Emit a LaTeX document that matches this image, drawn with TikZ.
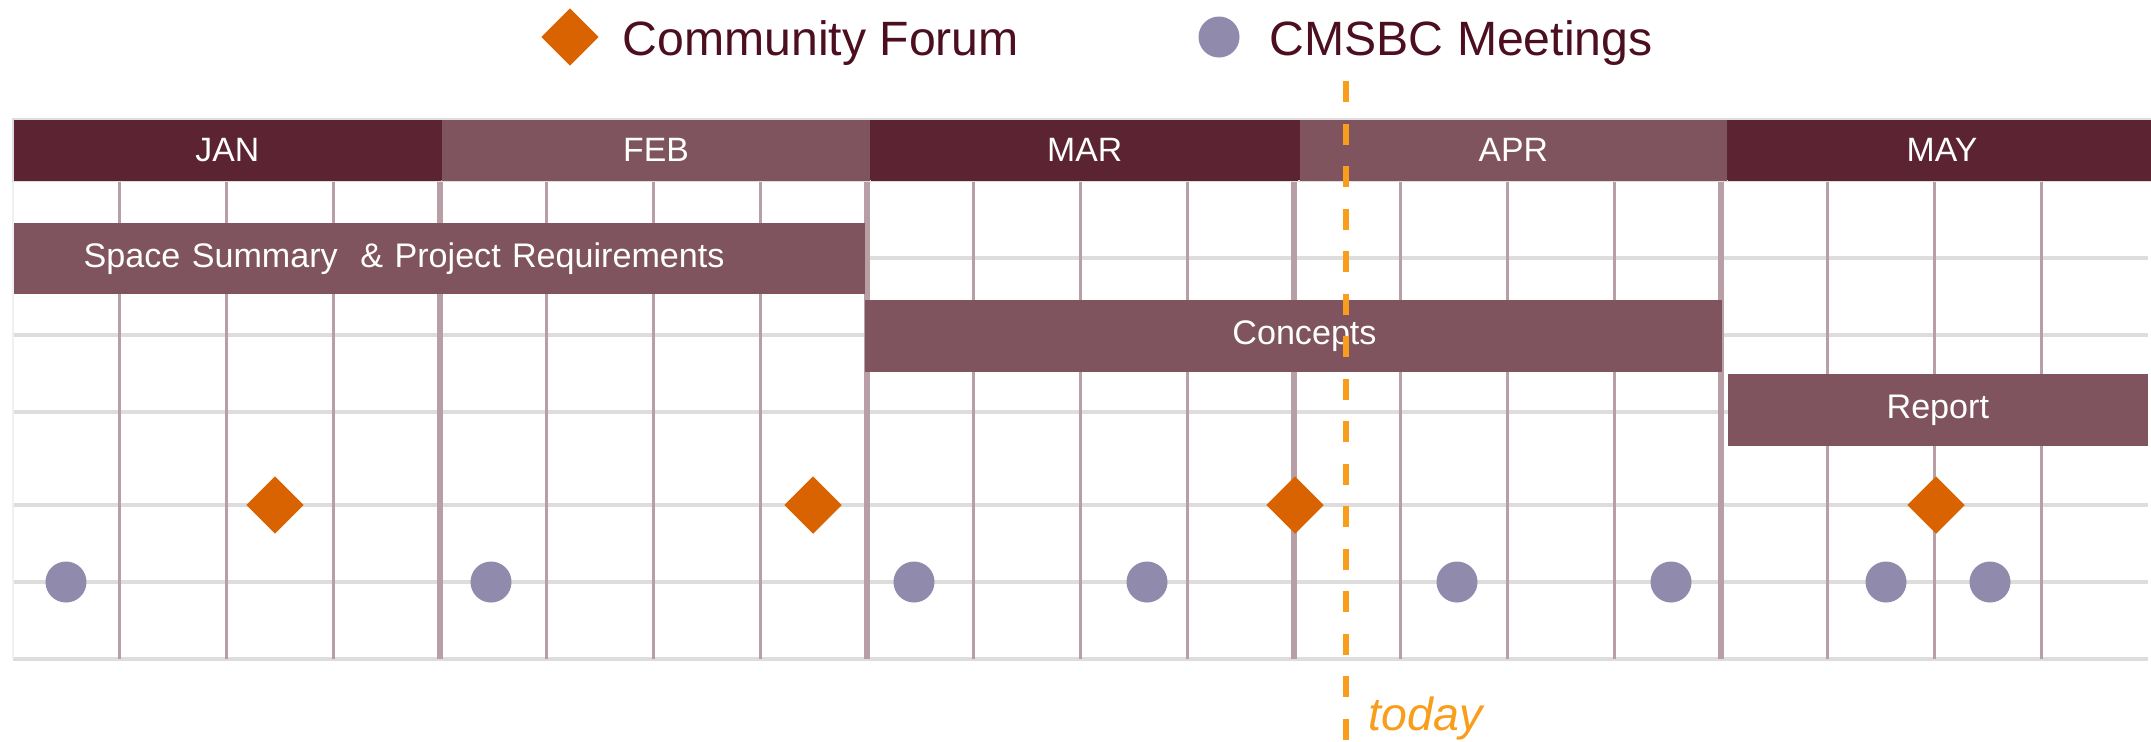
\documentclass[tikz,border=0pt]{standalone}
\usepackage{fontspec}
\setmainfont{Liberation Sans}
\usepackage{tikz}
\usetikzlibrary{shapes.geometric}
\definecolor{vinho}{RGB}{92,35,51}
\definecolor{vinhoclaro}{RGB}{127,84,94}
\definecolor{textolegenda}{RGB}{75,15,32}
\definecolor{laranja}{RGB}{217,99,0}
\definecolor{lilas}{RGB}{144,138,173}
\definecolor{gradev}{RGB}{184,158,165}
\definecolor{gradeh}{RGB}{221,221,221}
\definecolor{hoje}{RGB}{248,158,28}

\begin{document}
\begin{tikzpicture}[x=0.01cm,y=-0.01cm,
    mes/.style={rectangle,minimum width=4.27cm,minimum height=0.61cm,
                anchor=north west,inner sep=0pt,text=white,font=\fontsize{9.6}{11}\selectfont},
    tarefa/.style={rectangle,fill=vinhoclaro,minimum height=0.71cm,inner sep=0pt,
                   text=white,font=\fontsize{9.7}{12}\selectfont},
    forum/.style={diamond,fill=laranja,inner sep=0pt,minimum size=0.58cm},
    reuniao/.style={circle,fill=lilas,inner sep=0pt,minimum size=0.41cm},
    legenda/.style={anchor=base west,inner sep=0pt,text=textolegenda,font=\fontsize{13.7}{16}\selectfont}]

    \useasboundingbox (0,0) rectangle (2151,741);

    % grade
    \foreach \y in {180,258,335,412,505,582,659}
        \draw[gradeh,line width=1pt] (13,\y) -- (2148,\y);
    \draw[gray!12,line width=0.3pt] (13,180) -- (13,659);
    \foreach \m in {0,...,4}{
        \foreach \s in {1,2,3}
            \draw[gradev,line width=0.85pt] (13+427*\m+106.75*\s,180) -- ++(0,479);
    }
    \foreach \m in {1,...,4}
        \draw[gradev,line width=1.6pt] (13+427*\m,180) -- ++(0,479);

    % meses
    \fill[vinho] (13,119) rectangle (2148,180);
    \node[mes,fill=vinho] (jan) at (13,119) {JAN};
    \node[mes,fill=vinhoclaro] (fev) at (jan.north east) {FEB};
    \node[mes,fill=vinho] (mar) at (fev.north east) {MAR};
    \node[mes,fill=vinhoclaro] (abr) at (mar.north east) {APR};
    \node[mes,fill=vinho] (mai) at (abr.north east) {MAY};
    \draw[gradeh,line width=0.3pt] (jan.north west) rectangle (mai.south east);

    % tarefas
    \node[tarefa,anchor=west,text width=7.11cm,inner xsep=0.7cm,align=left] (espaco) at (13,258.5)
        {Space Summary\ \ \& Project Requirements};
    \node[tarefa,anchor=west,minimum width=8.57cm] (conceitos) at (864,336) {\hspace*{0.22cm}Concepts};
    \node[tarefa,anchor=west,minimum width=4.2cm] (relatorio) at (1727,410) {Report};

    % marcos
    \foreach \x [count=\i] in {275,813,1295,1936}
        \node[forum] (forum\i) at (\x,505) {};
    \foreach \x [count=\i] in {66,491,914,1147,1457,1671,1886,1990}
        \node[reuniao] (reuniao\i) at (\x,582) {};

    % legenda
    \node[forum] (legforum) at (570,37) {};
    \node[legenda] (txtforum) at (622,55) {Community Forum};
    \node[reuniao] (legreuniao) at (1219,37) {};
    \node[legenda] (txtreuniao) at (1269,55) {CMSBC Meetings};

    % hoje
    \coordinate (hojetopo) at (1346,81);
    \coordinate (hojebase) at (1346,741);
    \draw[hoje,line width=1.55pt,dash pattern=on 0.21cm off 0.215cm] (hojetopo) -- (hojebase);
    \node[anchor=base west,inner sep=0pt,text=hoje,font=\fontsize{13.2}{15}\selectfont\itshape] (hojetxt)
        at (1368,730) {today};

\end{tikzpicture}
\end{document}
